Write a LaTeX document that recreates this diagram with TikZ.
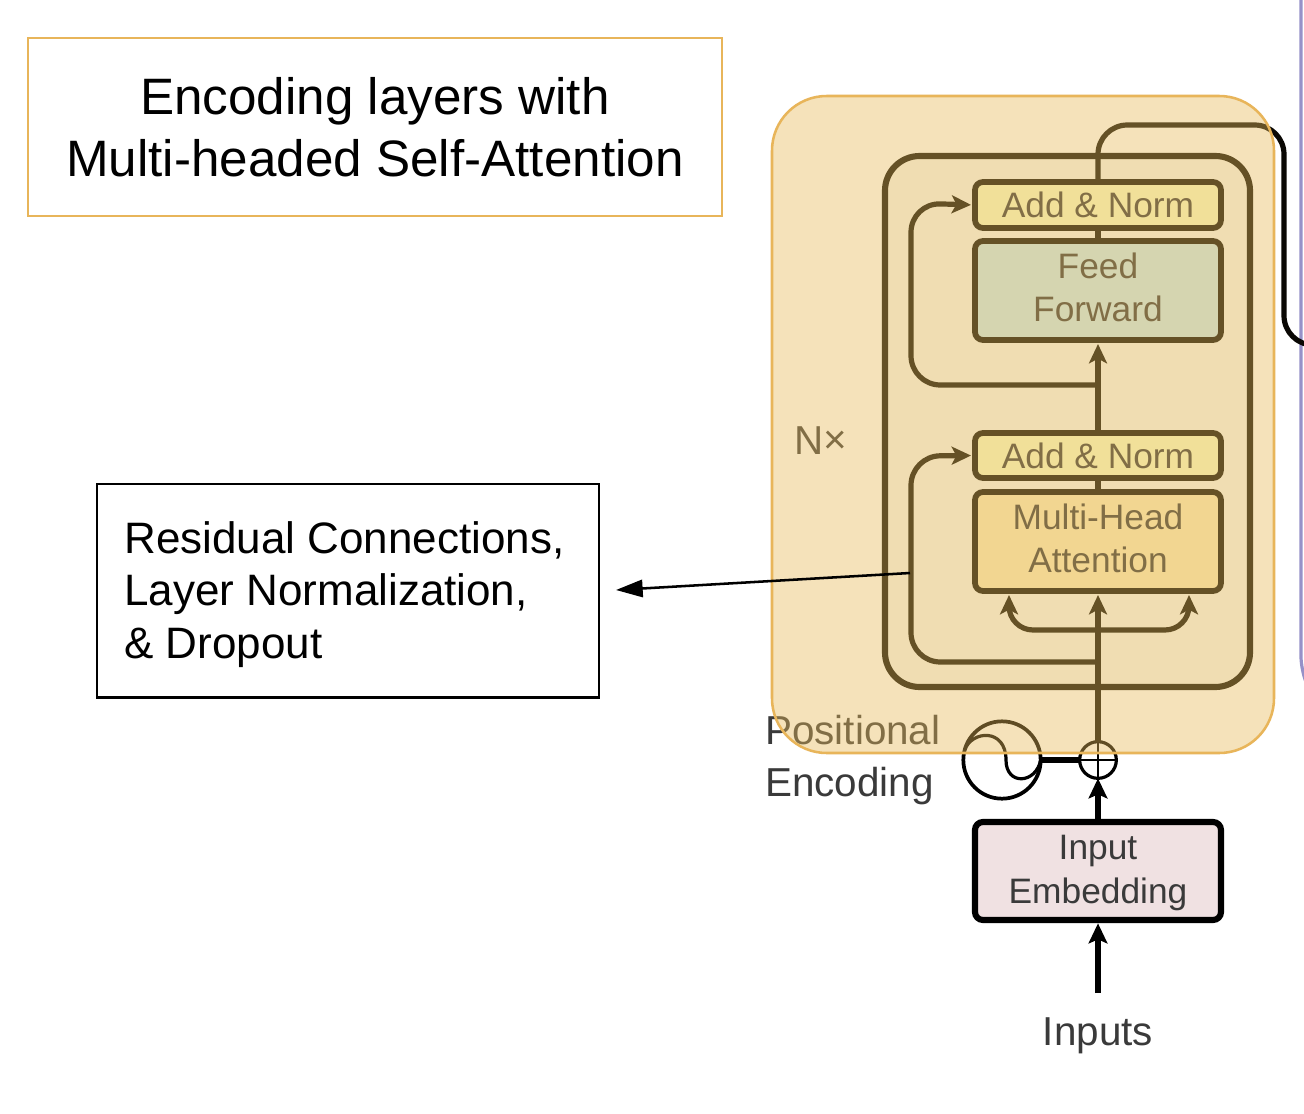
\documentclass[tikz,border=0pt]{standalone}
\usepackage{fontspec}
\setmainfont{Liberation Sans}
\usetikzlibrary{arrows.meta}
\definecolor{ink}{RGB}{10,8,4}
\definecolor{txt}{RGB}{58,58,58}
\definecolor{orangeline}{RGB}{232,181,90}
\definecolor{veil}{RGB}{232,186,88}
\definecolor{layerfill}{RGB}{247,247,241}
\definecolor{addfill}{RGB}{248,252,200}
\definecolor{fffill}{RGB}{200,232,238}
\definecolor{mhafill}{RGB}{250,234,186}
\definecolor{embfill}{RGB}{240,225,226}
\definecolor{purpleline}{RGB}{150,145,200}
\tikzset{
  px/.style={x=0.75pt,y=-0.75pt},
  tip/.style={-{Stealth[length=14.5pt,width=13.5pt,inset=3.5pt]},shorten >=3pt},
  wire/.style={draw=ink,line width=3.9pt,line join=round},
  block/.style={draw=ink,line width=4.3pt,rounded corners=6pt,inner sep=0pt,outer sep=0pt,anchor=north west,align=center,text=txt,font=\fontsize{26.5}{32.5}\selectfont},
  note/.style={font=\fontsize{30.3}{36}\selectfont,text=txt},
  callbox/.style={draw=black,line width=1.9pt,anchor=north west,inner sep=0pt,outer sep=0pt},
}
\begin{document}
\begin{tikzpicture}[px]
\useasboundingbox (0,0) rectangle (1304,1114);
\fill[white] (0,0) rectangle (1304,1114);
% right-hand remnant of the decoder frame
\draw[purpleline,line width=2.4pt,rounded corners=10pt] (1301,-5) -- (1301,670) -- (1306,682);
% encoder layer frame
\node[draw=ink,line width=4.6pt,rounded corners=26pt,fill=layerfill,minimum width=273.75pt,minimum height=398.25pt,anchor=north west,inner sep=0pt,outer sep=0pt] (layer) at (885,156) {};
% blocks
\node[block,fill=addfill,minimum width=184.5pt,minimum height=34.5pt] (add2) at (975,182) {Add \& Norm};
\node[block,fill=fffill,minimum width=184.5pt,minimum height=74.25pt,text depth=4.5pt] (ff) at (975,241) {Feed\\Forward};
\node[block,fill=addfill,minimum width=184.5pt,minimum height=33.75pt] (add1) at (975,433) {Add \& Norm};
\node[block,fill=mhafill,minimum width=184.5pt,minimum height=74.25pt,text depth=4.5pt] (mha) at (975,492) {Multi-Head\\Attention};
\node[block,draw=black,line width=4.6pt,fill=embfill,minimum width=184.5pt,minimum height=73.5pt,text depth=2.7pt] (emb) at (975,822) {Input\\Embedding};
% adder and positional encoding
\node[circle,draw=black,line width=2.4pt,minimum size=27.5pt,inner sep=0pt,outer sep=0pt] (plus) at (1098,760) {};
\draw[black,line width=1.8pt] (plus.north) -- (plus.south) (plus.west) -- (plus.east);
\node[circle,draw=black,line width=2.8pt,minimum size=58pt,inner sep=0pt,outer sep=0pt] (sine) at (1002,760) {};
\draw[black,line width=2.4pt] (sine.165) .. controls (972,730) and (1006,728) .. (1006,760) .. controls (1006,786) and (1036,784) .. (sine.east);
\draw[black,line width=4.6pt] (sine.east) -- (plus.west);
% connectors
\coordinate (split1) at (1098,662);
\coordinate (split2) at (1098,385);
\coordinate (fork) at (1098,630);
\coordinate (out) at (1310,345);
\draw[wire,tip] (plus.north) -- (mha.south);
\draw[wire] (mha.north) -- (add1.south);
\draw[wire,tip] (add1.north) -- (ff.south);
\draw[wire] (ff.north) -- (add2.south);
\draw[wire,rounded corners=22pt] (add2.north) -- (1098,125) -- (1284,125) -- (1284,345) -- (out);
\draw[wire,tip,rounded corners=22pt] (split1) -- (911,662) -- (911,456) -- (add1.west);
\draw[wire,tip,rounded corners=22pt] (split2) -- (911,385) -- (911,203) -- (add2.west);
\draw[wire,tip,rounded corners=18pt] (fork) -- (1009,630) -- ([xshift=-66.75pt]mha.south);
\draw[wire,tip,rounded corners=18pt] (fork) -- (1189,630) -- ([xshift=68.25pt]mha.south);
\draw[line width=4.6pt,black,-{Stealth[length=15pt,width=14pt,inset=3pt]}] (emb.north) -- (plus.south);
\coordinate (inp) at (1098,993);
\draw[line width=3.9pt,black,-{Stealth[length=15pt,width=14pt,inset=3pt]},shorten >=2.5pt] (inp) -- (emb.south);
% labels
\node[note,anchor=center] (nx) at (821,441) {N\raisebox{1pt}{×}};
\node[note,anchor=base west,inner sep=0pt] (pos) at (765,744) {Positional};
\node[note,anchor=base west,inner sep=0pt] (enc) at (765,796) {Encoding};
\node[note,anchor=center] (inputs) at (1098,1036) {Inputs};
% translucent highlight
\fill[veil,fill opacity=.41,rounded corners=41pt] (772,96) rectangle (1274,753);
\draw[orangeline,line width=1.9pt,rounded corners=41pt] (772,96) rectangle (1274,753);
% title box
\node[draw=orangeline,line width=2.1pt,minimum width=520.5pt,minimum height=133.5pt,anchor=north west,inner sep=0pt,outer sep=0pt,align=center,font=\fontsize{38.4}{46.5}\selectfont] (title) at (28,38) {Encoding layers with\\Multi-headed Self-Attention};
% callout
\node[callbox,minimum width=376.5pt,minimum height=160pt] (call) at (97,484) {};
\node[anchor=west,align=left,inner sep=0pt,font=\fontsize{33}{39.5}\selectfont] (calltext) at (124,594.5) {Residual Connections,\\Layer Normalization,\\\& Dropout};
\coordinate (calltip) at (616,590);
\coordinate (callfrom) at (910,573);
\draw[black,line width=1.9pt,-{Stealth[length=20pt,width=13pt,inset=0pt]}] (callfrom) -- (calltip);
\end{tikzpicture}
\end{document}
